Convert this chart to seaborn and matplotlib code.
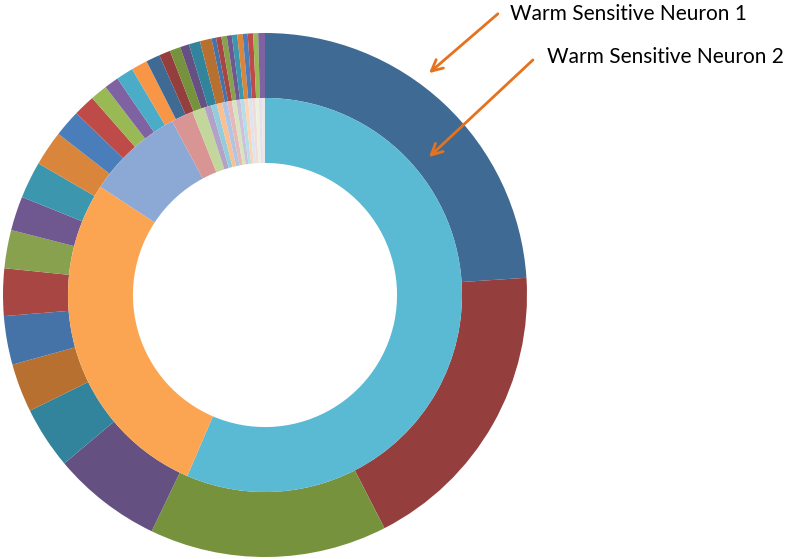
import matplotlib
matplotlib.use("Agg")
import matplotlib.pyplot as plt
import seaborn as sns

# Neuron 1 (outer ring) - shares, biggest first
neuron1 = [86.3, 66.7, 52.8, 24.4, 13.8, 10.8, 10.8, 10.5, 8.5, 7.6, 8.2,
           7.8, 6.0, 4.8, 3.8, 3.2, 3.8, 3.6, 3.1, 2.5, 2.4, 2.0, 2.5, 2.6,
           1.0, 1.2, 1.2, 1.1, 1.2, 1.2, 1.1, 1.2, 1.1, 1.5]

# Neuron 2 (inner ring)
neuron2 = [203.0, 100.0, 28.5, 6.5, 3.7, 2.0, 1.7, 1.6, 1.5, 1.4, 1.3,
           1.2, 1.2, 1.1, 1.1, 1.0, 1.0, 0.9, 0.9]

labels = ["Warm Sensitive Neuron 1", "Warm Sensitive Neuron 2"]

# excel-like colour cycles
outer_cols = ["#3e6a94", "#943f3e", "#77923d", "#645181", "#31849b", "#b7702f",
              "#4572a7", "#a84643", "#88a14f", "#6f5790", "#3c97ae", "#d9853c",
              "#4a7ebb", "#bf4b48", "#98b954", "#7e62a1", "#4aacc6", "#f79646"]
inner_cols = ["#5ab9d3", "#fba552", "#8ca8d5", "#d99594", "#c3d69b", "#b3a2c7",
              "#93cddd", "#fac090", "#b0c4e4", "#e6b9b8", "#d7e4bd", "#ccc1da",
              "#b7dee8", "#fcd5b5", "#dce6f2", "#f2dcdb", "#ebf1de", "#e6e0ec",
              "#e8e8e8"]

sns.set_style("white")
plt.rcParams["font.family"] = ["Lato", "DejaVu Sans"]

pal_out = sns.color_palette(outer_cols, len(neuron1))
pal_in = sns.color_palette(inner_cols, len(neuron2))

fig = plt.figure(figsize=(7.86, 5.59), dpi=100)
ax = fig.add_axes([3 / 786, 2 / 559, 524 / 786, 524 / 559])

ax.pie(neuron1, radius=1.0, colors=pal_out, startangle=90, counterclock=False,
       wedgeprops=dict(width=0.248, linewidth=0))
ax.pie(neuron2, radius=0.752, colors=pal_in, startangle=90, counterclock=False,
       wedgeprops=dict(width=0.248, linewidth=0))
ax.set_xlim(-1, 1)
ax.set_ylim(-1, 1)
ax.set_aspect("equal")
ax.axis("off")

arrow = dict(arrowstyle="->,head_length=0.8,head_width=0.4", color="#e5721f", lw=2)
ax.annotate("", xy=(0.618, 0.840), xycoords="data",
            xytext=(500 / 786, 1 - 12 / 559), textcoords="figure fraction",
            arrowprops=arrow)
ax.annotate("", xy=(0.618, 0.519), xycoords="data",
            xytext=(535 / 786, 1 - 58 / 559), textcoords="figure fraction",
            arrowprops=arrow)

fig.text(510 / 786, 1 - 14 / 559, labels[0], ha="left", va="center",
         fontsize=15, color="black")
fig.text(547 / 786, 1 - 57 / 559, labels[1], ha="left", va="center",
         fontsize=15, color="black")

fig.savefig("out.png", dpi=100)
